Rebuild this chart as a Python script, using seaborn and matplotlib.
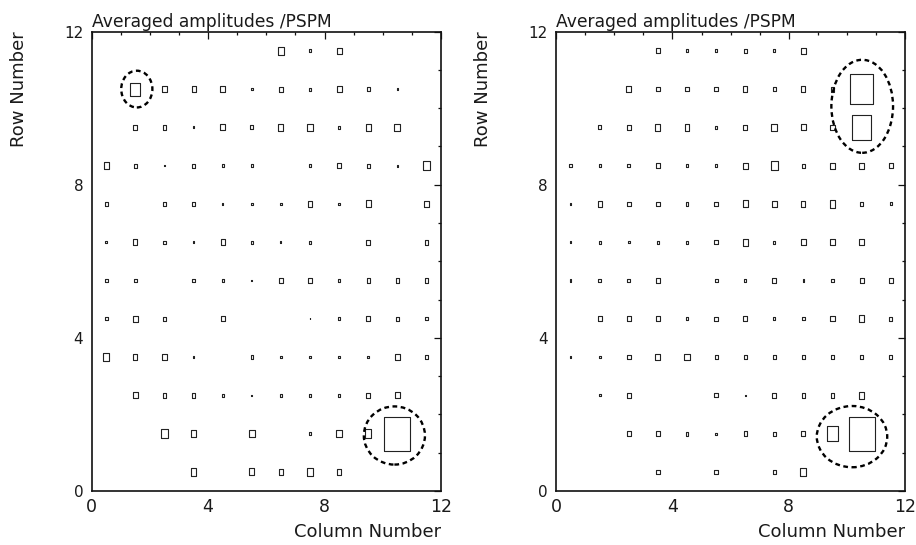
import numpy as np
import pandas as pd
import matplotlib
matplotlib.use("Agg")
import matplotlib.pyplot as plt
from matplotlib.patches import Ellipse
from matplotlib.ticker import MultipleLocator
import seaborn as sns

# Grid of detector cells: 12 columns x 12 rows
n_cols = 12
n_rows = 12
row_order = list(range(11, -1, -1))  # rows listed from the top (11) down to 0

# Box side (fraction of a cell) per cell; 0 means no box drawn
left_amp = [
    [0.00, 0.00, 0.00, 0.00, 0.00, 0.00, 0.25, 0.10, 0.20, 0.00, 0.00, 0.00],
    [0.00, 0.37, 0.17, 0.17, 0.19, 0.10, 0.16, 0.11, 0.20, 0.14, 0.07, 0.00],
    [0.00, 0.16, 0.16, 0.08, 0.18, 0.14, 0.20, 0.23, 0.12, 0.20, 0.23, 0.00],
    [0.20, 0.13, 0.05, 0.13, 0.10, 0.11, 0.00, 0.11, 0.17, 0.13, 0.08, 0.25],
    [0.12, 0.00, 0.12, 0.12, 0.06, 0.10, 0.10, 0.17, 0.08, 0.21, 0.00, 0.18],
    [0.09, 0.17, 0.11, 0.07, 0.17, 0.10, 0.07, 0.10, 0.00, 0.16, 0.00, 0.15],
    [0.13, 0.12, 0.00, 0.12, 0.10, 0.07, 0.18, 0.18, 0.12, 0.14, 0.14, 0.16],
    [0.12, 0.19, 0.13, 0.00, 0.17, 0.00, 0.00, 0.05, 0.12, 0.16, 0.14, 0.11],
    [0.25, 0.17, 0.17, 0.06, 0.00, 0.11, 0.10, 0.10, 0.10, 0.09, 0.18, 0.12],
    [0.00, 0.18, 0.15, 0.15, 0.10, 0.07, 0.10, 0.10, 0.12, 0.15, 0.18, 0.00],
    [0.00, 0.00, 0.25, 0.23, 0.00, 0.22, 0.00, 0.11, 0.22, 0.25, 0.92, 0.00],
    [0.00, 0.00, 0.00, 0.22, 0.00, 0.21, 0.17, 0.22, 0.18, 0.00, 0.00, 0.00],
]

right_amp = [
    [0.00, 0.00, 0.00, 0.15, 0.11, 0.11, 0.13, 0.11, 0.19, 0.00, 0.00, 0.00],
    [0.00, 0.00, 0.20, 0.15, 0.15, 0.14, 0.18, 0.15, 0.17, 0.16, 0.81, 0.00],
    [0.00, 0.14, 0.17, 0.20, 0.20, 0.12, 0.16, 0.23, 0.19, 0.17, 0.70, 0.00],
    [0.11, 0.10, 0.12, 0.15, 0.11, 0.10, 0.19, 0.25, 0.14, 0.18, 0.18, 0.17],
    [0.06, 0.17, 0.15, 0.15, 0.13, 0.14, 0.21, 0.20, 0.17, 0.23, 0.14, 0.11],
    [0.09, 0.10, 0.09, 0.10, 0.10, 0.14, 0.21, 0.11, 0.20, 0.20, 0.20, 0.00],
    [0.09, 0.11, 0.13, 0.17, 0.00, 0.13, 0.11, 0.17, 0.09, 0.10, 0.17, 0.17],
    [0.00, 0.17, 0.16, 0.15, 0.11, 0.14, 0.17, 0.10, 0.11, 0.17, 0.22, 0.13],
    [0.08, 0.10, 0.15, 0.20, 0.21, 0.13, 0.13, 0.14, 0.13, 0.15, 0.14, 0.13],
    [0.00, 0.09, 0.17, 0.00, 0.00, 0.14, 0.07, 0.16, 0.15, 0.16, 0.22, 0.00],
    [0.00, 0.00, 0.16, 0.16, 0.13, 0.08, 0.14, 0.13, 0.17, 0.40, 0.92, 0.00],
    [0.00, 0.00, 0.00, 0.15, 0.00, 0.14, 0.00, 0.13, 0.23, 0.00, 0.00, 0.00],
]

panel_title = "Averaged amplitudes /PSPM"
x_label = "Column Number"
y_label = "Row Number"
major_ticks = [0, 4, 8, 12]

# Dashed rings around highlighted cells: (x, y, width, height) in grid units
left_rings = [(1.55, 10.5, 1.07, 0.96), (10.4, 1.45, 2.1, 1.52)]
right_rings = [(10.52, 10.05, 2.12, 2.43), (10.17, 1.42, 2.42, 1.60)]


def to_frame(grid):
    recs = []
    for r, vals in zip(row_order, grid):
        for c, v in enumerate(vals):
            if v > 0:
                recs.append({"col": c + 0.5, "row": r + 0.5, "amp": v})
    return pd.DataFrame(recs)


sns.set_theme(style="white")
plt.rcParams["font.family"] = ["DejaVu Sans"]
plt.rcParams["text.color"] = "#1a1a1a"
plt.rcParams["axes.labelcolor"] = "#1a1a1a"

W, H, DPI = 9.16, 5.45, 100
fig = plt.figure(figsize=(W, H), dpi=DPI)
fig.patch.set_facecolor("white")

ax_w, ax_h, ax_b = 0.3813, 0.8428, 0.0991
panels = [
    (0.1001, left_amp, left_rings),
    (0.6070, right_amp, right_rings),
]

edge_lw = 0.8
title_fs = 12.3
label_fs = 13
xtick_fs = 12.5
ytick_fs = 11

for left, grid, rings in panels:
    ax = fig.add_axes([left, ax_b, ax_w, ax_h])
    ax.set_facecolor("white")

    # cell size in points, to make the boxes square in grid units
    cell_w_pt = ax_w * W * 72 / n_cols
    cell_h_pt = ax_h * H * 72 / n_rows
    aspect = cell_w_pt / cell_h_pt
    box = [(-aspect, -1), (aspect, -1), (aspect, 1), (-aspect, 1), (-aspect, -1)]

    df = to_frame(grid)
    side = np.clip(df["amp"].to_numpy() * cell_h_pt - edge_lw, 0.6, None)

    sns.scatterplot(
        data=df, x="col", y="row", ax=ax, marker=box, s=side ** 2,
        facecolor="none", edgecolor="#222222", linewidth=edge_lw, legend=False,
    )

    for (x, y, w, h) in rings:
        ax.add_patch(Ellipse((x, y), w, h, fill=False, edgecolor="black",
                             linewidth=1.7, linestyle=(0, (2.0, 1.5))))

    ax.set_xlim(0, n_cols)
    ax.set_ylim(0, n_rows)
    ax.xaxis.set_minor_locator(MultipleLocator(1))
    ax.yaxis.set_minor_locator(MultipleLocator(1))
    ax.set_xticks(major_ticks)
    ax.set_yticks(major_ticks)
    ax.tick_params(which="both", direction="in", top=True, right=True,
                   colors="#111111", width=0.9, labelcolor="#1a1a1a")
    ax.tick_params(which="major", length=5, pad=6)
    ax.tick_params(which="minor", length=2.5)
    ax.tick_params(axis="x", labelsize=xtick_fs, pad=5)
    ax.tick_params(axis="y", labelsize=ytick_fs)
    for sp in ax.spines.values():
        sp.set_linewidth(1.2)
        sp.set_color("#111111")
        sp.set_visible(True)

    ax.set_title(panel_title, loc="left", fontsize=title_fs, pad=3)
    ax.set_xlabel(x_label, loc="right", fontsize=label_fs, labelpad=5)
    ax.set_ylabel(y_label, loc="top", fontsize=label_fs, labelpad=26)

fig.savefig("out.png", dpi=DPI, facecolor="white")
